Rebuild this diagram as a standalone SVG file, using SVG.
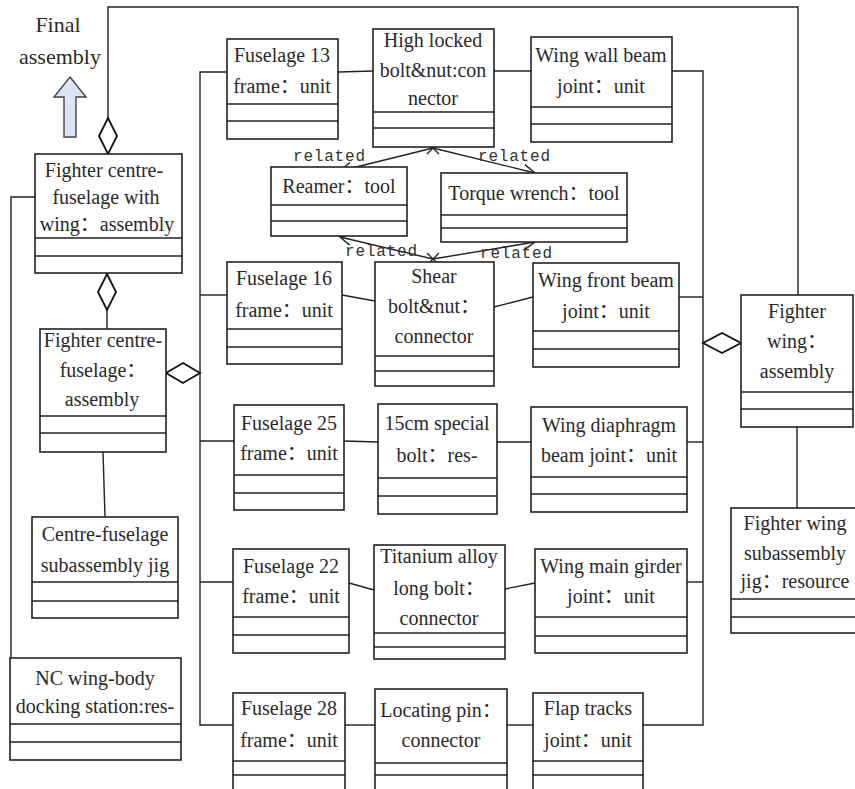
<svg xmlns="http://www.w3.org/2000/svg" width="855" height="789" viewBox="0 0 855 789">
<defs>
<style>
.box{fill:#fff;stroke:#222;stroke-width:1.6}
.div{stroke:#222;stroke-width:1.6}
.t{font-size:20px;fill:#2a2a2a;text-anchor:middle}
.c{fill:none;stroke:#222;stroke-width:1.4}
.dia{fill:#fff;stroke:#111;stroke-width:1.8}
.rel{font-size:16px;fill:#333;letter-spacing:0.8px}
</style>
<marker id="open" markerUnits="userSpaceOnUse" markerWidth="16" markerHeight="14" refX="12" refY="6" orient="auto">
<path d="M0,0 L12,6 L0,12" fill="none" stroke="#222" stroke-width="1.5"/>
</marker>
</defs>
<rect width="855" height="789" fill="#fff"/>

<g id="final-assembly">
<text class="t" font-family="Liberation Serif, Noto Sans CJK SC, serif" x="58" y="32" style="font-size:22px">Final</text>
<text class="t" font-family="Liberation Serif, Noto Sans CJK SC, serif" x="60" y="64" style="font-size:22px">assembly</text>
<path d="M70,77 L86,97 L76,97 L76,137 L64,137 L64,97 L54,97 Z" fill="#dce6f2" stroke="#444" stroke-width="1.4"/>
</g>

<g id="connectors">
<polyline class="c" points="108,118 108,7 798,7 798,295"/>
<polyline class="c" points="35,197 11,197 11,658"/>
<line class="c" x1="107" y1="310" x2="107" y2="329"/>
<line class="c" x1="103" y1="452" x2="105" y2="517"/>
<line class="c" x1="797" y1="427" x2="797" y2="508"/>
<polyline class="c" points="227,72 200,72 200,725 233,725"/>
<line class="c" x1="200" y1="295" x2="227" y2="295"/>
<line class="c" x1="200" y1="441" x2="234" y2="441"/>
<line class="c" x1="200" y1="582" x2="233" y2="582"/>
<polyline class="c" points="672,71 703,71 703,725 643,725"/>
<line class="c" x1="679" y1="297" x2="703" y2="297"/>
<line class="c" x1="687" y1="442" x2="703" y2="442"/>
<line class="c" x1="687" y1="582" x2="703" y2="582"/>
<line class="c" x1="338" y1="72" x2="373" y2="71"/>
<line class="c" x1="494" y1="71" x2="531" y2="71"/>
<line class="c" x1="342" y1="295" x2="375" y2="301"/>
<line class="c" x1="494" y1="307" x2="533" y2="297"/>
<line class="c" x1="344" y1="441" x2="378" y2="442"/>
<line class="c" x1="497" y1="442" x2="531" y2="442"/>
<line class="c" x1="349" y1="583" x2="374" y2="590"/>
<line class="c" x1="505" y1="589" x2="535" y2="583"/>
<line class="c" x1="345" y1="725" x2="375" y2="725"/>
<line class="c" x1="507" y1="725" x2="533" y2="725"/>
<line class="c" x1="433" y1="148" x2="340" y2="171" marker-end="url(#open)"/>
<line class="c" x1="433" y1="148" x2="535" y2="173" marker-end="url(#open)"/>
<line class="c" x1="433" y1="259" x2="340" y2="237" marker-end="url(#open)"/>
<line class="c" x1="433" y1="259" x2="535" y2="242" marker-end="url(#open)"/>
<path class="c" d="M427,142 L439,154 M427,154 L439,142"/>
<path class="c" d="M427,253 L439,265 M427,265 L439,253"/>
<text class="rel" font-family="Liberation Mono, DejaVu Sans Mono, monospace" x="293" y="161">related</text>
<text class="rel" font-family="Liberation Mono, DejaVu Sans Mono, monospace" x="478" y="161">related</text>
<text class="rel" font-family="Liberation Mono, DejaVu Sans Mono, monospace" x="345" y="256">related</text>
<text class="rel" font-family="Liberation Mono, DejaVu Sans Mono, monospace" x="480" y="258">related</text>
<path class="dia" d="M108,118 L117,136 L108,154 L99,136 Z"/>
<path class="dia" d="M107,274 L116,292 L107,310 L98,292 Z"/>
<path class="dia" d="M166,373 L183,363 L200,373 L183,383 Z"/>
<path class="dia" d="M703,343 L722,333 L741,343 L722,353 Z"/>
</g>

<g id="fighter-centre-fuselage-with-wing">
<rect class="box" x="35" y="154" width="147" height="119"/>
<line class="div" x1="35" y1="238" x2="182" y2="238"/><line class="div" x1="35" y1="256" x2="182" y2="256"/>
<text class="t" font-family="Liberation Serif, Noto Sans CJK SC, serif" x="104" y="177">Fighter centre-</text>
<text class="t" font-family="Liberation Serif, Noto Sans CJK SC, serif" x="106" y="204">fuselage with</text>
<text class="t" font-family="Liberation Serif, Noto Sans CJK SC, serif" x="107" y="231">wing：assembly</text>
</g>

<g id="fighter-centre-fuselage">
<rect class="box" x="40" y="329" width="126" height="123"/>
<line class="div" x1="40" y1="416" x2="166" y2="416"/><line class="div" x1="40" y1="433" x2="166" y2="433"/>
<text class="t" font-family="Liberation Serif, Noto Sans CJK SC, serif" x="103" y="347">Fighter centre-</text>
<text class="t" font-family="Liberation Serif, Noto Sans CJK SC, serif" x="103" y="377">fuselage：</text>
<text class="t" font-family="Liberation Serif, Noto Sans CJK SC, serif" x="102" y="406">assembly</text>
</g>

<g id="centre-fuselage-jig">
<rect class="box" x="32" y="517" width="146" height="101"/>
<line class="div" x1="32" y1="582" x2="178" y2="582"/><line class="div" x1="32" y1="601" x2="178" y2="601"/>
<text class="t" font-family="Liberation Serif, Noto Sans CJK SC, serif" x="105" y="541">Centre-fuselage</text>
<text class="t" font-family="Liberation Serif, Noto Sans CJK SC, serif" x="105" y="572">subassembly jig</text>
</g>

<g id="nc-docking-station">
<rect class="box" x="10" y="658" width="171" height="102"/>
<line class="div" x1="10" y1="724" x2="181" y2="724"/><line class="div" x1="10" y1="742" x2="181" y2="742"/>
<text class="t" font-family="Liberation Serif, Noto Sans CJK SC, serif" x="95" y="685">NC wing-body</text>
<text class="t" font-family="Liberation Serif, Noto Sans CJK SC, serif" x="95" y="713">docking station:res-</text>
</g>

<g id="fuselage-13">
<rect class="box" x="227" y="39" width="111" height="100"/>
<line class="div" x1="227" y1="104" x2="338" y2="104"/><line class="div" x1="227" y1="121" x2="338" y2="121"/>
<text class="t" font-family="Liberation Serif, Noto Sans CJK SC, serif" x="282" y="62">Fuselage 13</text>
<text class="t" font-family="Liberation Serif, Noto Sans CJK SC, serif" x="282" y="93">frame：unit</text>
</g>

<g id="high-locked-bolt">
<rect class="box" x="373" y="29" width="121" height="118"/>
<line class="div" x1="373" y1="112" x2="494" y2="112"/><line class="div" x1="373" y1="128" x2="494" y2="128"/>
<text class="t" font-family="Liberation Serif, Noto Sans CJK SC, serif" x="433" y="47">High locked</text>
<text class="t" font-family="Liberation Serif, Noto Sans CJK SC, serif" x="433" y="77">bolt&amp;nut:con</text>
<text class="t" font-family="Liberation Serif, Noto Sans CJK SC, serif" x="433" y="105">nector</text>
</g>

<g id="wing-wall-beam">
<rect class="box" x="531" y="37" width="141" height="105"/>
<line class="div" x1="531" y1="107" x2="672" y2="107"/><line class="div" x1="531" y1="124" x2="672" y2="124"/>
<text class="t" font-family="Liberation Serif, Noto Sans CJK SC, serif" x="601" y="62">Wing wall beam</text>
<text class="t" font-family="Liberation Serif, Noto Sans CJK SC, serif" x="601" y="93">joint：unit</text>
</g>

<g id="reamer">
<rect class="box" x="271" y="167" width="136" height="69"/>
<line class="div" x1="271" y1="205" x2="407" y2="205"/><line class="div" x1="271" y1="221" x2="407" y2="221"/>
<text class="t" font-family="Liberation Serif, Noto Sans CJK SC, serif" x="339" y="193">Reamer：tool</text>
</g>

<g id="torque-wrench">
<rect class="box" x="441" y="173" width="186" height="69"/>
<line class="div" x1="441" y1="215" x2="627" y2="215"/><line class="div" x1="441" y1="228" x2="627" y2="228"/>
<text class="t" font-family="Liberation Serif, Noto Sans CJK SC, serif" x="534" y="200">Torque wrench：tool</text>
</g>

<g id="fuselage-16">
<rect class="box" x="227" y="262" width="115" height="102"/>
<line class="div" x1="227" y1="329" x2="342" y2="329"/><line class="div" x1="227" y1="347" x2="342" y2="347"/>
<text class="t" font-family="Liberation Serif, Noto Sans CJK SC, serif" x="284" y="285">Fuselage 16</text>
<text class="t" font-family="Liberation Serif, Noto Sans CJK SC, serif" x="284" y="317">frame：unit</text>
</g>

<g id="shear-bolt">
<rect class="box" x="375" y="262" width="119" height="124"/>
<line class="div" x1="375" y1="356" x2="494" y2="356"/><line class="div" x1="375" y1="371" x2="494" y2="371"/>
<text class="t" font-family="Liberation Serif, Noto Sans CJK SC, serif" x="434" y="283">Shear</text>
<text class="t" font-family="Liberation Serif, Noto Sans CJK SC, serif" x="434" y="313">bolt&amp;nut：</text>
<text class="t" font-family="Liberation Serif, Noto Sans CJK SC, serif" x="434" y="343">connector</text>
</g>

<g id="wing-front-beam">
<rect class="box" x="533" y="263" width="146" height="104"/>
<line class="div" x1="533" y1="331" x2="679" y2="331"/><line class="div" x1="533" y1="349" x2="679" y2="349"/>
<text class="t" font-family="Liberation Serif, Noto Sans CJK SC, serif" x="606" y="287">Wing front beam</text>
<text class="t" font-family="Liberation Serif, Noto Sans CJK SC, serif" x="606" y="318">joint：unit</text>
</g>

<g id="fuselage-25">
<rect class="box" x="234" y="405" width="110" height="105"/>
<line class="div" x1="234" y1="475" x2="344" y2="475"/><line class="div" x1="234" y1="493" x2="344" y2="493"/>
<text class="t" font-family="Liberation Serif, Noto Sans CJK SC, serif" x="289" y="430">Fuselage 25</text>
<text class="t" font-family="Liberation Serif, Noto Sans CJK SC, serif" x="289" y="460">frame：unit</text>
</g>

<g id="special-bolt">
<rect class="box" x="378" y="404" width="119" height="110"/>
<line class="div" x1="378" y1="478" x2="497" y2="478"/><line class="div" x1="378" y1="496" x2="497" y2="496"/>
<text class="t" font-family="Liberation Serif, Noto Sans CJK SC, serif" x="437" y="430">15cm special</text>
<text class="t" font-family="Liberation Serif, Noto Sans CJK SC, serif" x="437" y="462">bolt：res-</text>
</g>

<g id="wing-diaphragm">
<rect class="box" x="531" y="407" width="156" height="105"/>
<line class="div" x1="531" y1="477" x2="687" y2="477"/><line class="div" x1="531" y1="494" x2="687" y2="494"/>
<text class="t" font-family="Liberation Serif, Noto Sans CJK SC, serif" x="609" y="432">Wing diaphragm</text>
<text class="t" font-family="Liberation Serif, Noto Sans CJK SC, serif" x="609" y="462">beam joint：unit</text>
</g>

<g id="fighter-wing">
<rect class="box" x="741" y="295" width="112" height="132"/>
<line class="div" x1="741" y1="392" x2="853" y2="392"/><line class="div" x1="741" y1="409" x2="853" y2="409"/>
<text class="t" font-family="Liberation Serif, Noto Sans CJK SC, serif" x="797" y="318">Fighter</text>
<text class="t" font-family="Liberation Serif, Noto Sans CJK SC, serif" x="797" y="348">wing：</text>
<text class="t" font-family="Liberation Serif, Noto Sans CJK SC, serif" x="797" y="378">assembly</text>
</g>

<g id="fighter-wing-jig">
<rect class="box" x="731" y="508" width="126" height="125"/>
<line class="div" x1="731" y1="599" x2="857" y2="599"/><line class="div" x1="731" y1="617" x2="857" y2="617"/>
<text class="t" font-family="Liberation Serif, Noto Sans CJK SC, serif" x="795" y="530">Fighter wing</text>
<text class="t" font-family="Liberation Serif, Noto Sans CJK SC, serif" x="795" y="560">subassembly</text>
<text class="t" font-family="Liberation Serif, Noto Sans CJK SC, serif" x="795" y="588">jig：resource</text>
</g>

<g id="fuselage-22">
<rect class="box" x="233" y="549" width="116" height="104"/>
<line class="div" x1="233" y1="617" x2="349" y2="617"/><line class="div" x1="233" y1="635" x2="349" y2="635"/>
<text class="t" font-family="Liberation Serif, Noto Sans CJK SC, serif" x="291" y="573">Fuselage 22</text>
<text class="t" font-family="Liberation Serif, Noto Sans CJK SC, serif" x="291" y="603">frame：unit</text>
</g>

<g id="titanium-bolt">
<rect class="box" x="374" y="545" width="131" height="114"/>
<line class="div" x1="374" y1="633" x2="505" y2="633"/><line class="div" x1="374" y1="647" x2="505" y2="647"/>
<text class="t" font-family="Liberation Serif, Noto Sans CJK SC, serif" x="439" y="563">Titanium alloy</text>
<text class="t" font-family="Liberation Serif, Noto Sans CJK SC, serif" x="439" y="595">long bolt：</text>
<text class="t" font-family="Liberation Serif, Noto Sans CJK SC, serif" x="439" y="625">connector</text>
</g>

<g id="wing-main-girder">
<rect class="box" x="535" y="549" width="152" height="104"/>
<line class="div" x1="535" y1="617" x2="687" y2="617"/><line class="div" x1="535" y1="636" x2="687" y2="636"/>
<text class="t" font-family="Liberation Serif, Noto Sans CJK SC, serif" x="611" y="573">Wing main girder</text>
<text class="t" font-family="Liberation Serif, Noto Sans CJK SC, serif" x="611" y="603">joint：unit</text>
</g>

<g id="fuselage-28">
<rect class="box" x="233" y="693" width="112" height="110"/>
<line class="div" x1="233" y1="761" x2="345" y2="761"/><line class="div" x1="233" y1="775" x2="345" y2="775"/>
<text class="t" font-family="Liberation Serif, Noto Sans CJK SC, serif" x="289" y="715">Fuselage 28</text>
<text class="t" font-family="Liberation Serif, Noto Sans CJK SC, serif" x="289" y="747">frame：unit</text>
</g>

<g id="locating-pin">
<rect class="box" x="375" y="689" width="132" height="114"/>
<line class="div" x1="375" y1="763" x2="507" y2="763"/><line class="div" x1="375" y1="775" x2="507" y2="775"/>
<text class="t" font-family="Liberation Serif, Noto Sans CJK SC, serif" x="441" y="717">Locating pin：</text>
<text class="t" font-family="Liberation Serif, Noto Sans CJK SC, serif" x="441" y="747">connector</text>
</g>

<g id="flap-tracks">
<rect class="box" x="533" y="693" width="110" height="110"/>
<line class="div" x1="533" y1="761" x2="643" y2="761"/><line class="div" x1="533" y1="775" x2="643" y2="775"/>
<text class="t" font-family="Liberation Serif, Noto Sans CJK SC, serif" x="588" y="715">Flap tracks</text>
<text class="t" font-family="Liberation Serif, Noto Sans CJK SC, serif" x="588" y="747">joint：unit</text>
</g>
</svg>
